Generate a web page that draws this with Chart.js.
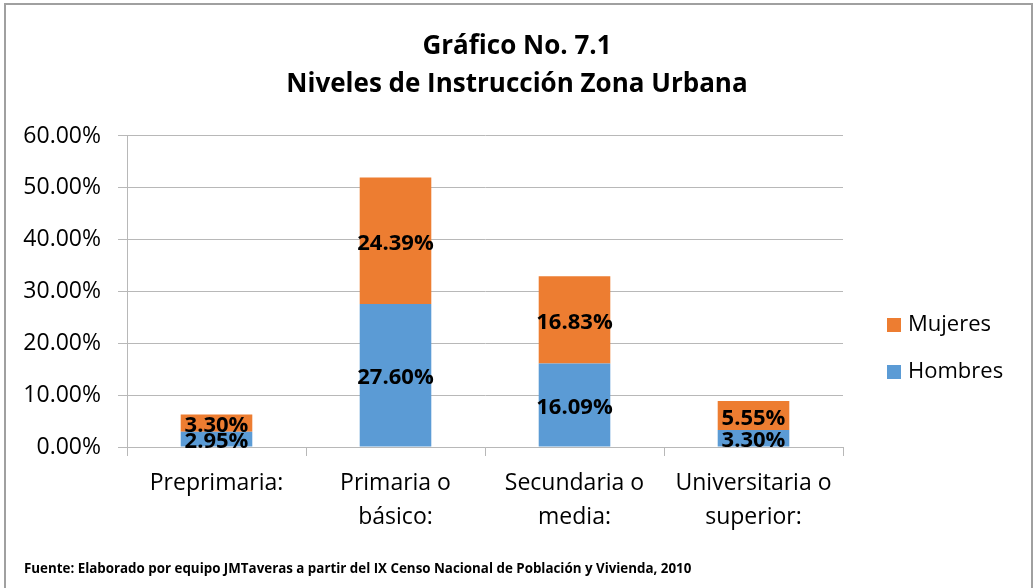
<!DOCTYPE html>
<html>
<head>
<meta charset="utf-8">
<script src="https://cdn.jsdelivr.net/npm/chart.js@4.4.0/dist/chart.umd.min.js"></script>
<style>
  html, body { margin: 0; padding: 0; background: #fff; }
  #wrap { width: 1034px; height: 588px; position: relative; }
</style>
</head>
<body>
<div id="wrap"><canvas id="bar-chart"></canvas></div>
<script>
// Data
var categories = [["Preprimaria:"], ["Primaria o", "básico:"], ["Secundaria o", "media:"], ["Universitaria o", "superior:"]];
var hombres = [2.95, 27.60, 16.09, 3.30];
var mujeres = [3.30, 24.39, 16.83, 5.55];
var seriesNames = ["Hombres", "Mujeres"];
var seriesColors = ["#5B9BD5", "#ED7D31"];
var titleLines = ["Gráfico No. 7.1", "Niveles de Instrucción Zona Urbana"];
var sourceNote = "Fuente: Elaborado por equipo JMTaveras a partir del IX Censo Nacional de Población y Vivienda, 2010";

var FONT = "'Open Sans', sans-serif";
var GRID = "#b8b8b8";

// labels inside the bar segments, legend, footer and frame
var extras = {
    id: "extras",
    afterDatasetsDraw: function (chart) {
        var ctx = chart.ctx;
        ctx.save();
        ctx.font = "bold 22px " + FONT;
        ctx.fillStyle = "#000";
        ctx.textAlign = "center";
        ctx.textBaseline = "middle";
        chart.data.datasets.forEach(function (ds, i) {
            chart.getDatasetMeta(i).data.forEach(function (bar, j) {
                var y = (bar.y + bar.base) / 2;
                ctx.fillText(ds.data[j].toFixed(2) + "%", bar.x, y + 3);
            });
        });
        ctx.restore();
    },
    afterDraw: function (chart) {
        var ctx = chart.ctx;
        ctx.save();
        // legend (Mujeres on top)
        ctx.font = "22px " + FONT;
        ctx.textAlign = "left";
        ctx.textBaseline = "middle";
        var items = [1, 0];
        items.forEach(function (k, n) {
            var y = 325 + n * 47;
            ctx.fillStyle = seriesColors[k];
            ctx.fillRect(887, y - 7, 14, 14);
            ctx.fillStyle = "#000";
            ctx.fillText(seriesNames[k], 908, y);
        });
        // source note
        ctx.font = "bold 13.35px " + FONT;
        ctx.fillText(sourceNote, 24, 569);
        // frame (bottom edge falls outside the picture)
        ctx.strokeStyle = "#a0a0a0";
        ctx.lineWidth = 2;
        ctx.strokeRect(5, 4, 1027, 600);
        ctx.restore();
    }
};

var ctx = document.getElementById("bar-chart");

var chartData = {
    labels: categories,
    datasets: [{
        label: seriesNames[0],
        data: hombres,
        backgroundColor: seriesColors[0]
    }, {
        label: seriesNames[1],
        data: mujeres,
        backgroundColor: seriesColors[1]
    }]
};

var chartOptions = {
    responsive: true,
    maintainAspectRatio: false,
    animation: false,
    layout: { padding: 0 },
    datasets: { bar: { categoryPercentage: 1, barPercentage: 0.4 } },
    plugins: {
        legend: { display: false },
        tooltip: { enabled: false },
        title: {
            display: true,
            text: titleLines,
            color: "#000",
            font: { family: FONT, size: 26, weight: "bold", lineHeight: 1.48 },
            padding: { top: 27, bottom: 32 }
        }
    },
    scales: {
        x: {
            stacked: true,
            grid: { drawOnChartArea: false, drawTicks: true, tickLength: 9, color: GRID },
            border: { color: GRID },
            ticks: { color: "#000", padding: 10, font: { family: FONT, size: 23, lineHeight: 1.48 } },
            afterFit: function (scale) { scale.height = 141; }
        },
        y: {
            stacked: true,
            min: 0,
            max: 60,
            grid: { color: GRID, tickLength: 9 },
            border: { color: GRID },
            ticks: {
                stepSize: 10,
                color: "#000",
                padding: 17,
                font: { family: FONT, size: 23 },
                callback: function (v) { return v.toFixed(2) + "%"; }
            },
            afterFit: function (scale) { scale.width = 127; }
        },
        // empty axis that keeps room for the legend on the right
        legendSpace: {
            type: "linear",
            position: "right",
            grid: { display: false },
            border: { display: false },
            ticks: { display: false },
            afterFit: function (scale) { scale.width = 191; }
        }
    }
};

var config = {
    type: "bar",
    data: chartData,
    options: chartOptions,
    plugins: [extras]
};

var barChart = new Chart(ctx, config);
</script>
</body>
</html>
